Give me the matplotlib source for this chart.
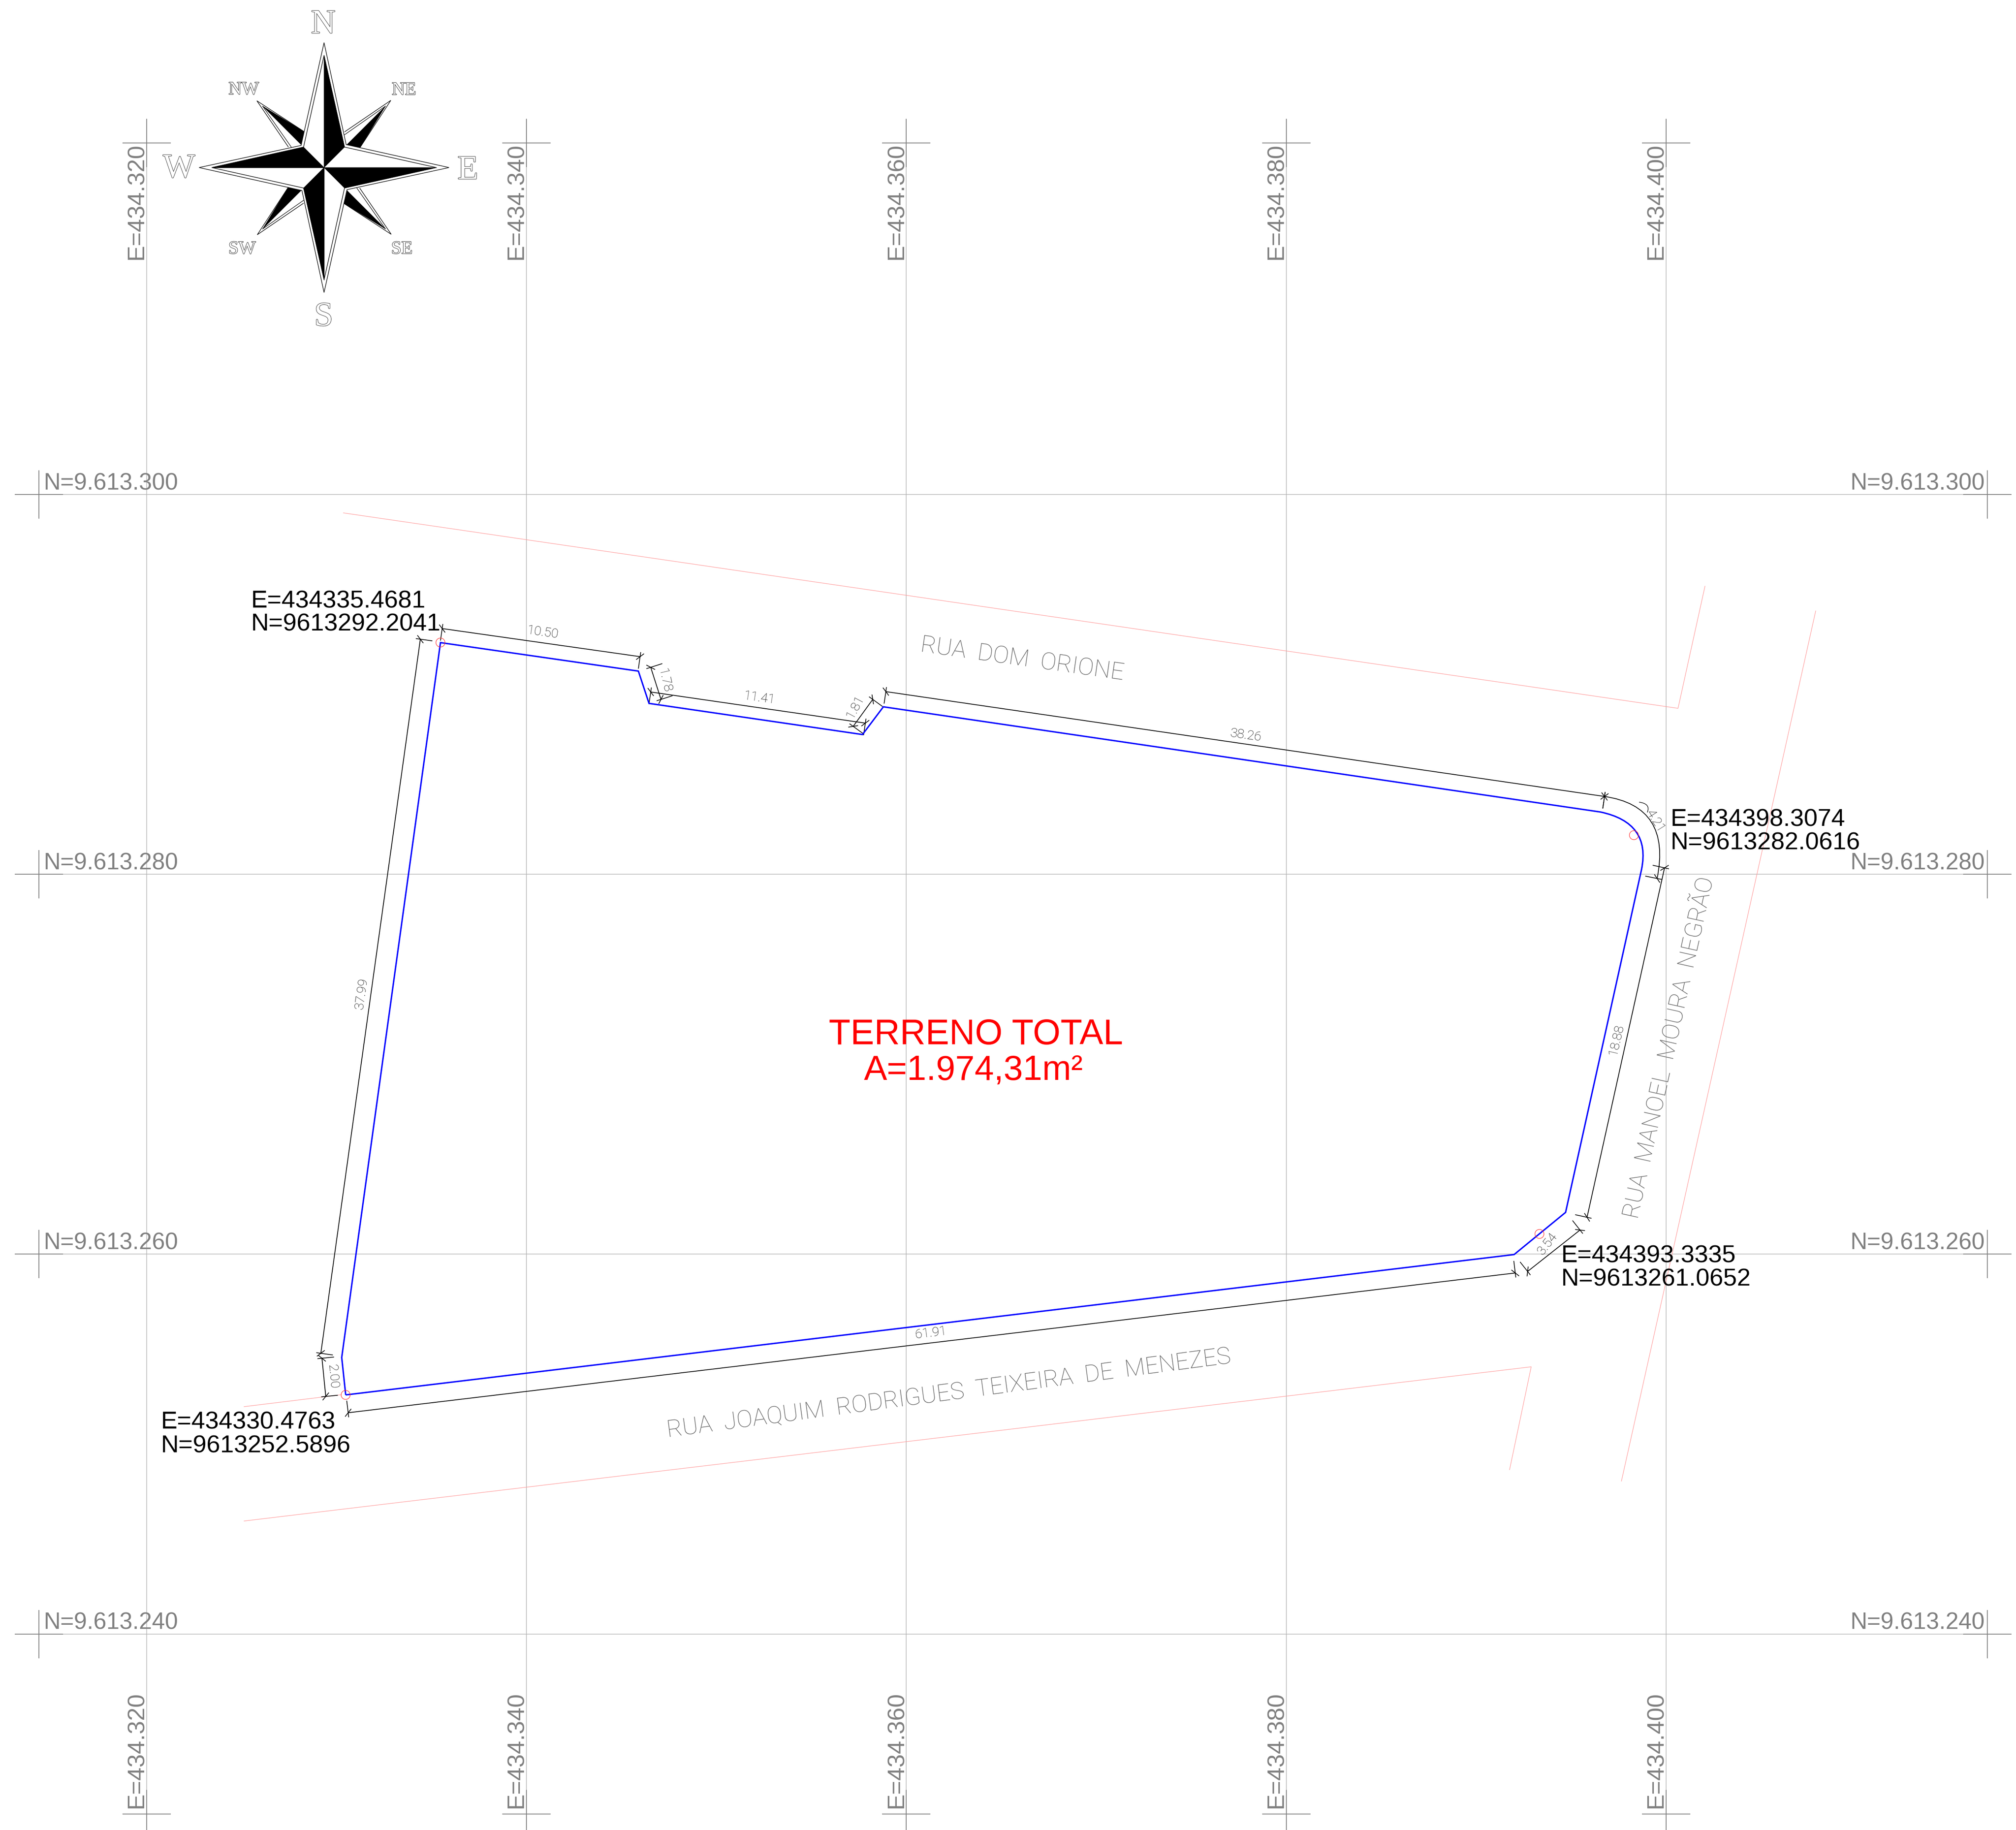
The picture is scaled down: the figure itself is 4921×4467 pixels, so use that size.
import numpy as np
import matplotlib
matplotlib.use('Agg')
import matplotlib.pyplot as plt
import matplotlib.patheffects as pe
from matplotlib.patches import Circle, PathPatch, Polygon
from matplotlib.path import Path

# all survey coordinates are offsets from these two
E0 = 434300
N0 = 9613200

grid_e = [20, 40, 60, 80, 100]
grid_n = [100, 80, 60, 40]
grid_e_labels = ['E=434.320', 'E=434.340', 'E=434.360', 'E=434.380', 'E=434.400']
grid_n_labels = ['N=9.613.300', 'N=9.613.280', 'N=9.613.260', 'N=9.613.240']

# blue lot boundary, arc handled apart
blue_top_e = [30.48, 30.27, 35.47, 45.89, 46.45, 57.69, 58.79, 96.55]
blue_top_n = [52.59, 54.56, 92.20, 90.70, 89.00, 87.36, 88.82, 83.28]
blue_arc_ctrl = (99.21, 82.72)
blue_bot_e = [98.71, 94.71, 92.00, 30.48]
blue_bot_n = [80.26, 62.20, 59.98, 52.59]

# measured corners
corner_e = [35.4681, 98.3074, 93.3335, 30.4763]
corner_n = [92.2041, 82.0616, 61.0652, 52.5896]
corner_l1 = ['E=434335.4681', 'E=434398.3074', 'E=434393.3335', 'E=434330.4763']
corner_l2 = ['N=9613292.2041', 'N=9613282.0616', 'N=9613261.0652', 'N=9613252.5896']

# dimension lines: (e1, n1, e2, n2)
dim_lines = [
    (35.56, 92.94, 45.98, 91.46),
    (46.54, 90.90, 47.08, 89.21),
    (46.54, 89.60, 57.84, 87.96),
    (57.20, 87.79, 58.23, 89.21),
    (58.92, 89.62, 96.76, 84.10),
    (99.92, 80.34, 95.84, 61.94),
    (95.47, 61.27, 92.71, 59.09),
    (92.06, 59.01, 30.61, 51.65),
    (29.43, 52.51, 29.23, 54.52),
    (29.17, 54.78, 34.41, 92.38),
]
dim_arc = [(96.76, 84.10), (100.30, 83.58), (99.53, 79.78)]
dim_labels = ['10.50', '1.78', '11.41', '1.81', '38.26', '4.21', '18.88', '3.54', '61.91', '2.00', '37.99']

# street edges
street_1e = [30.36, 100.63, 102.05]
street_1n = [99.03, 88.74, 95.17]
street_2e = [107.88, 97.65]
street_2n = [93.87, 48.05]
street_3e = [25.13, 92.90, 91.76]
street_3n = [45.95, 54.07, 48.65]
street_4e = [25.13, 30.25]
street_4n = [51.97, 52.60]

# compass, in image pixels from its centre (one quarter, the rest is rotated)
star_tip = [(0, 305), (54, 56)]
star_inner = [(0, 274), (50, 50)]
star_black = [(0, 0), (0, 274), (50, 50)]
diag_outer = [(50, 87), (163, 164), (88, 49)]
diag_black = [(150, 150), (56, 56), (88, 49)]
diag_line = [(150, 150), (50, 80)]

K = 46.36  # px per metre
X_LEFT = 20 - 358 / K
Y_TOP = 100 + 1207 / K
W, H = 4921, 4467


def pix(x, y):
    return X_LEFT + x / K, Y_TOP - y / K


fig = plt.figure(figsize=(W / 100, H / 100), dpi=100, facecolor='white')
ax = fig.add_axes([0, 0, 1, 1])
ax.set_xlim(X_LEFT, X_LEFT + W / K)
ax.set_ylim(Y_TOP - H / K, Y_TOP)
ax.axis('off')

GRID = '#b4b4b4'
CROSS = '#808080'
SANS = 'Liberation Sans'

# grid and crosses
top_n = pix(0, 349)[1]
bot_n = pix(0, 4428)[1]
left_e = pix(95, 0)[0]
right_e = pix(4851, 0)[0]
arm = 58 / K
for e, lab in zip(grid_e, grid_e_labels):
    ax.plot([e, e], [pix(0, 292)[1], pix(0, 4462)[1]], color=GRID, lw=1.1, zorder=1)
    for n, yb in ((top_n, 634), (bot_n, 4414)):
        ax.plot([e, e], [n - arm, n + arm], color=CROSS, lw=1.4, zorder=2)
        ax.plot([e - arm, e + arm], [n, n], color=CROSS, lw=1.4, zorder=2)
        x0 = (e - X_LEFT) * K - 9
        px, py = pix(x0, yb)
        ax.text(px, py, lab, rotation=90, rotation_mode='anchor', ha='left', va='baseline',
                family=SANS, fontsize=42, color=CROSS, zorder=3)
for n, lab in zip(grid_n, grid_n_labels):
    ax.plot([pix(37, 0)[0], pix(4908, 0)[0]], [n, n], color=GRID, lw=1.1, zorder=1)
    for e, xl in ((left_e, 106), (right_e, 4516)):
        ax.plot([e, e], [n - arm, n + arm], color=CROSS, lw=1.4, zorder=2)
        ax.plot([e - arm, e + arm], [n, n], color=CROSS, lw=1.4, zorder=2)
        ax.text(pix(xl, 0)[0], n + 12 / K, lab, ha='left', va='baseline',
                family=SANS, fontsize=41, color=CROSS, zorder=3)

# streets
for se, sn in ((street_1e, street_1n), (street_2e, street_2n),
               (street_3e, street_3n), (street_4e, street_4n)):
    ax.plot(se, sn, color='#ff9a9a', lw=0.9, zorder=2)

# blue boundary
verts = list(zip(blue_top_e, blue_top_n)) + [blue_arc_ctrl] + list(zip(blue_bot_e, blue_bot_n))
codes = [Path.MOVETO] + [Path.LINETO] * (len(blue_top_e) - 1) + [Path.CURVE3, Path.CURVE3] + \
    [Path.LINETO] * (len(blue_bot_e) - 1)
ax.add_patch(PathPatch(Path(verts, codes), fc='none', ec='#0000ff', lw=2.5, joinstyle='miter', zorder=5))

# dimension lines with their little ticks
centre = np.array([65.0, 72.0])


def ticks(p, q):
    p = np.array(p)
    q = np.array(q)
    d = (q - p) / np.hypot(*(q - p))
    s = np.array([-d[1], d[0]])
    if np.dot(centre - p, s) < 0:
        s = -s
    ax.plot(*np.array([p - s * 0.22, p + s * 0.62]).T, color='black', lw=1.3, zorder=4)
    o = (d + s) / np.sqrt(2)
    ax.plot(*np.array([p - o * 0.24, p + o * 0.24]).T, color='black', lw=1.3, zorder=4)


for e1, n1, e2, n2 in dim_lines:
    ax.plot([e1, e2], [n1, n2], color='black', lw=1.4, zorder=4)
    ticks((e1, n1), (e2, n2))
    ticks((e2, n2), (e1, n1))
ax.add_patch(PathPatch(Path(dim_arc, [Path.MOVETO, Path.CURVE3, Path.CURVE3]), fc='none', ec='black',
                       lw=1.4, zorder=4))
ticks(dim_arc[0], dim_arc[1])
ticks(dim_arc[2], dim_arc[1])
# arc length sign beside the 4.21
sign = [pix(4001, 1958), pix(4030, 1962), pix(4021, 1983)]
ax.add_patch(PathPatch(Path(sign, [Path.MOVETO, Path.CURVE3, Path.CURVE3]), fc='none', ec='black',
                       lw=1.0, zorder=4))

# red circles on the corners
for e, n in zip(corner_e, corner_n):
    ax.add_patch(Circle((e, n), 11 / K, fc='none', ec='#ff3030', lw=0.9, zorder=6))

THIN = 'Roboto'
dim_pos = [(1324, 1544, -8), (1622, 1661, -77), (1853, 1704, -8), (2088, 1726, 62), (3041, 1795, -8),
           (4041, 2005, -58), (3945, 2539, 77), (3777, 3036, 52), (2272, 3254, 7), (812, 3360, -85),
           (882, 2426, 82)]
for lab, (x, y, r) in zip(dim_labels, dim_pos):
    ax.text(*pix(x, y), lab, rotation=r, rotation_mode='anchor', ha='center', va='center',
            family=THIN, weight='light', fontsize=23, color='#111111', zorder=6)

# corner coordinates
block_pos = [(612, 1483, 1540), (4077, 2016, 2073), (3810, 3082, 3138), (392, 3488, 3545)]
for l1, l2, (x, y1, y2) in zip(corner_l1, corner_l2, block_pos):
    ax.text(*pix(x, y1), l1, ha='left', va='baseline', family=SANS, fontsize=43.3, color='black', zorder=7)
    ax.text(*pix(x, y2), l2, ha='left', va='baseline', family=SANS, fontsize=43.3, color='black', zorder=7)

# title
ax.text(*pix(2382, 2549), 'TERRENO TOTAL', ha='center', va='baseline', family=SANS, fontsize=62.5,
        color='#ff0000', zorder=7)
ax.text(*pix(2376, 2636), 'A=1.974,31m²', ha='center', va='baseline', family=SANS, fontsize=61,
        color='#ff0000', zorder=7)

# street names
streets = [('RUA  DOM  ORIONE', 2495, 1610, -8),
           ('RUA  JOAQUIM  RODRIGUES  TEIXEIRA  DE  MENEZES', 2316, 3402, 7.5),
           ('RUA  MANOEL  MOURA  NEGRÃO', 4076, 2558, 77.5)]
for lab, x, y, r in streets:
    ax.text(*pix(x, y), lab, rotation=r, rotation_mode='anchor', ha='center', va='center',
            family=THIN, weight='light', fontsize=42, color='#666666', zorder=6)

# compass rose
cx, cy = pix(791, 409)


def rot(pts, i):
    out = []
    for x, y in pts:
        for _ in range(i):
            x, y = y, -x
        out.append((cx + x / K, cy + y / K))
    return out


outer = []
inner = []
for i in range(4):
    outer += rot(star_tip, i)
    inner += rot(star_inner, i)
for i in range(4):
    ax.add_patch(Polygon(rot(diag_outer, i), closed=False, fc='white', ec='black', lw=1.0, zorder=5))
    ax.add_patch(Polygon(rot(diag_black, i), fc='black', ec='black', lw=0.6, zorder=6))
    ax.plot(*np.array(rot(diag_line, i)).T, color='black', lw=0.9, zorder=6)
ax.add_patch(Polygon(outer, fc='white', ec='black', lw=1.0, zorder=7))
ax.add_patch(Polygon(inner, fc='white', ec='black', lw=1.0, zorder=8))
for i in range(4):
    ax.add_patch(Polygon(rot(star_black, i), fc='black', ec='black', lw=0.6, zorder=9))
ax.plot([cx, cx], [cy - 274 / K, cy + 274 / K], color='black', lw=0.8, zorder=9)
ax.plot([cx - 274 / K, cx + 274 / K], [cy, cy], color='black', lw=0.8, zorder=9)

outline = [pe.Stroke(linewidth=1.3, foreground='#222222'), pe.Normal()]
rose_big = [('N', 789, 61), ('E', 1142, 417), ('W', 437, 413), ('S', 790, 775)]
rose_small = [('NW', 595, 219), ('NE', 986, 220), ('SW', 591, 608), ('SE', 981, 608)]
for lab, x, y in rose_big:
    ax.text(*pix(x, y), lab, ha='center', va='center', family='Liberation Serif', fontsize=60,
            color='white', path_effects=outline, zorder=10)
for lab, x, y in rose_small:
    ax.text(*pix(x, y), lab, ha='center', va='center', family='Liberation Serif', fontsize=32,
            color='white', path_effects=outline, zorder=10)

fig.savefig('out.png', dpi=100, facecolor='white')
